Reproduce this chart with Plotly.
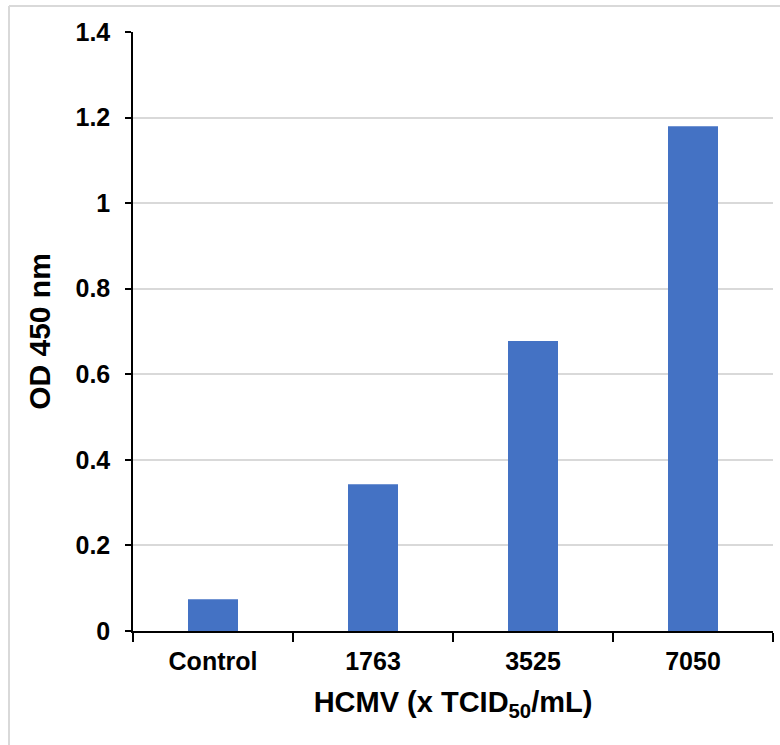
import plotly.graph_objects as go

categories = ["Control", "1763", "3525", "7050"]
od_values = [0.074, 0.343, 0.678, 1.18]
y_ticks = [0, 0.2, 0.4, 0.6, 0.8, 1.0, 1.2, 1.4]
y_tick_labels = ["0", "0.2", "0.4", "0.6", "0.8", "1", "1.2", "1.4"]

FONT = "Liberation Sans, Arial, sans-serif"
L, R, T, B = 133, 7, 32, 114
W, H = 780, 745
pw, ph = W - L - R, H - T - B

fig = go.Figure(go.Bar(x=categories, y=od_values, marker=dict(color="#4472C4", line=dict(width=0))))

def px2paper_x(px):
    return (px - L) / pw

def px2paper_y(py):
    return (H - B - py) / ph

fig.update_layout(
    width=W, height=H,
    margin=dict(l=L, r=R, t=T, b=B),
    paper_bgcolor="white", plot_bgcolor="white",
    bargap=0.6875,
    showlegend=False,
    font=dict(family=FONT, color="black"),
    xaxis=dict(
        showline=True, linecolor="black", linewidth=1.5,
        ticks="outside", tickson="boundaries", ticklen=9, tickwidth=1.5, tickcolor="black",
        tickfont=dict(family=FONT, size=25, color="black", weight="bold"),
        ticklabelstandoff=7,
        title=dict(text="<b>HCMV (x TCID<sub>50</sub>/mL)</b>", font=dict(family=FONT, size=29, color="black"), standoff=18),
        showgrid=False,
    ),
    yaxis=dict(
        range=[0, 1.4],
        tickvals=y_ticks, ticktext=y_tick_labels,
        showline=True, linecolor="black", linewidth=1.5,
        ticks="outside", ticklen=6, tickwidth=1.5, tickcolor="black",
        tickfont=dict(family=FONT, size=25, color="black", weight="bold"),
        ticklabelstandoff=10,
        showgrid=True, gridcolor="#d9d9d9", gridwidth=1.5,
        zeroline=False,
        title=dict(text="<b>OD 450 nm</b>", font=dict(family=FONT, size=30, color="black"), standoff=16),
    ),
    shapes=[
        dict(type="line", xref="paper", yref="paper", x0=px2paper_x(9), x1=px2paper_x(9),
             y0=px2paper_y(6), y1=px2paper_y(745), line=dict(color="#d9d9d9", width=2)),
        dict(type="line", xref="paper", yref="paper", x0=px2paper_x(9), x1=px2paper_x(780),
             y0=px2paper_y(6), y1=px2paper_y(6), line=dict(color="#d9d9d9", width=2)),
    ],
)

fig.write_html("out.html", config={"displayModeBar": False},
               post_script="document.body.style.margin='0';document.body.style.overflow='hidden';")
